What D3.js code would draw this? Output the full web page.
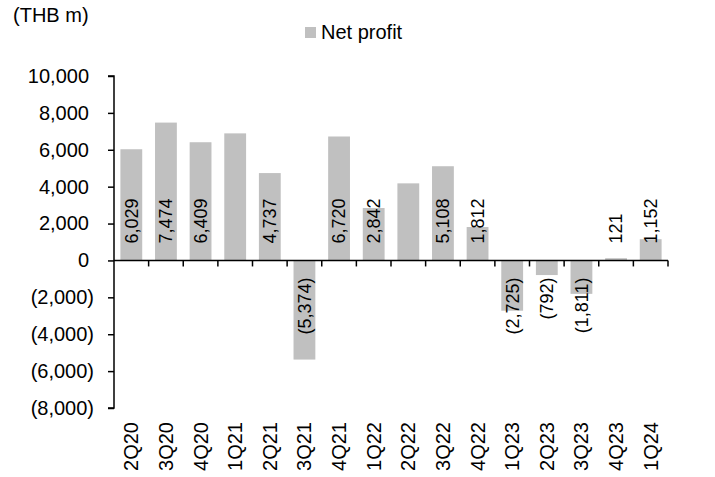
<!DOCTYPE html>
<html>
<head>
<meta charset="utf-8">
<script src="https://cdn.jsdelivr.net/npm/d3@7"></script>
<style>
  body { margin: 0; background: #fff; }
  text { font-family: "Liberation Sans", Arial, sans-serif; fill: #000; }
</style>
</head>
<body>
<div id="chart"></div>
<script>
var quarters = ['2Q20','3Q20','4Q20','1Q21','2Q21','3Q21','4Q21','1Q22','2Q22','3Q22','4Q22','1Q23','2Q23','3Q23','4Q23','1Q24']
var netProfit = [6029, 7474, 6409, 6890, 4737, -5374, 6720, 2842, 4180, 5108, 1812, -2725, -792, -1811, 121, 1152]
// which bars carry a data label in the original
var showLabel = [true, true, true, false, true, true, true, true, false, true, true, true, true, true, true, true]
var yTicks = [10000, 8000, 6000, 4000, 2000, 0, -2000, -4000, -6000, -8000]

var width = 715
var height = 477
var plotLeft = 114, plotRight = 668, plotTop = 76, plotBottom = 408

var rows = quarters.map(function(q, i) { return {q: q, v: netProfit[i], label: showLabel[i]} })

var svg = d3.select('#chart').append('svg')
  .attr('width', width)
  .attr('height', height)

var x = d3.scaleBand().domain(quarters).range([plotLeft, plotRight]).paddingInner(0.37).paddingOuter(0.185)
var y = d3.scaleLinear().domain([-8000, 10000]).range([plotBottom, plotTop])

var fmt = function(v) {
  var s = d3.format(',')(Math.abs(v))
  return v < 0 ? '(' + s + ')' : s
}

// bars
svg.selectAll('.bar').data(rows).enter().append('rect')
  .attr('class', 'bar')
  .attr('x', function(d) { return x(d.q) })
  .attr('width', x.bandwidth())
  .attr('y', function(d) { return y(Math.max(0, d.v)) })
  .attr('height', function(d) { return Math.abs(y(d.v) - y(0)) })
  .attr('fill', '#c0c0c0')

// y axis
var yAxis = d3.axisLeft(y).tickValues(yTicks).tickSize(6).tickPadding(14).tickFormat(fmt)
var gy = svg.append('g').attr('transform', 'translate(' + plotLeft + ',0)').call(yAxis)
gy.select('.domain').attr('stroke', '#000').attr('stroke-width', 1.5).attr('d', 'M-6,' + plotTop + 'H0V' + plotBottom + 'H-6')
gy.selectAll('.tick line').attr('stroke', '#000').attr('stroke-width', 1.5)
gy.selectAll('.tick text')
  .style('font-size', '20px')
  .style('font-family', '"Liberation Sans", Arial, sans-serif')
  .attr('dx', function(d) { return d >= 0 ? -5 : 0 })

// x axis along zero, ticks at category boundaries
var zeroY = y(0)
svg.append('line')
  .attr('x1', plotLeft).attr('x2', plotRight)
  .attr('y1', zeroY).attr('y2', zeroY)
  .attr('stroke', '#000').attr('stroke-width', 1.5)

var step = x.step()
var offset = step * x.paddingOuter()
svg.selectAll('.xtick').data(quarters).enter().append('line')
  .attr('x1', function(d) { return x(d) - offset + step })
  .attr('x2', function(d) { return x(d) - offset + step })
  .attr('y1', zeroY).attr('y2', zeroY + 6)
  .attr('stroke', '#000').attr('stroke-width', 1.5)

// category labels
svg.selectAll('.xlabel').data(quarters).enter().append('text')
  .attr('transform', function(d) { return 'translate(' + (x(d) + x.bandwidth() / 2) + ',422) rotate(-90)' })
  .attr('text-anchor', 'end')
  .attr('dy', '0.35em')
  .style('font-size', '20px')
  .text(function(d) { return d })

// value labels
svg.selectAll('.vlabel').data(rows.filter(function(d) { return d.label })).enter().append('text')
  .attr('transform', function(d) {
    var cx = x(d.q) + x.bandwidth() / 2
    var cy = d.v >= 0 ? zeroY - 17 : zeroY + 17
    return 'translate(' + cx + ',' + cy + ') rotate(-90)'
  })
  .attr('text-anchor', function(d) { return d.v >= 0 ? 'start' : 'end' })
  .attr('dy', '0.35em')
  .style('font-size', '18px')
  .text(function(d) { return fmt(d.v) })

// unit label
svg.append('text').attr('x', 13).attr('y', 22).style('font-size', '20px').text('(THB m)')

// legend
svg.append('rect').attr('x', 305).attr('y', 27).attr('width', 11).attr('height', 11).attr('fill', '#c0c0c0')
svg.append('text').attr('x', 321).attr('y', 39).style('font-size', '20px').text('Net profit')
</script>
</body>
</html>
